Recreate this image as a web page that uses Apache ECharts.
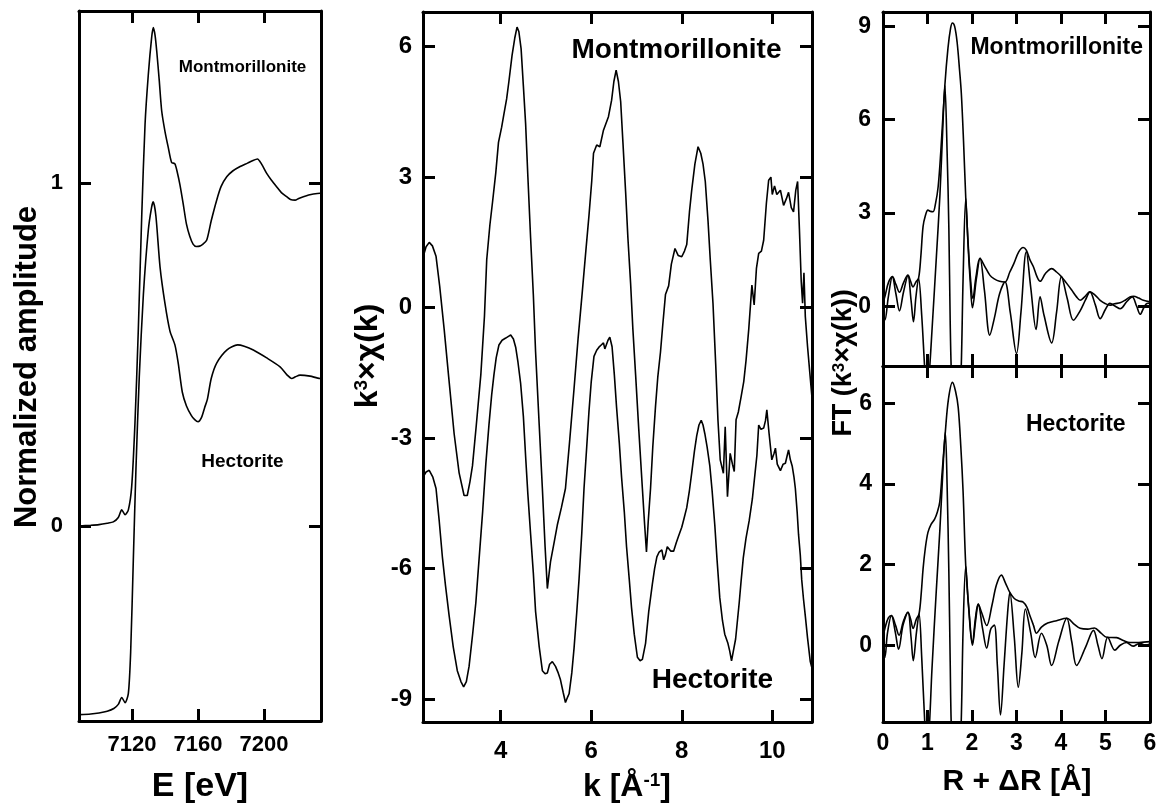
<!DOCTYPE html>
<html><head><meta charset="utf-8">
<script src="https://cdn.jsdelivr.net/npm/echarts@6/dist/echarts.min.js"></script>
<style>html,body{margin:0;padding:0;background:#fff}#c{width:1161px;height:809px}</style>
</head><body><div id="c"></div>
<script>
// ---------- DATA ----------
// Panel 1: XANES (E [eV], normalized amplitude)
const xanesMont = [[7088,0],[7095,0.002],[7100,0.004],[7105,0.008],[7108.7,0.012],[7111.7,0.025],[7113.8,0.047],[7115.8,0.033],[7117.8,0.047],[7119.8,0.114],[7121.8,0.30],[7123.8,0.568],[7125.9,0.904],[7127.9,1.17],[7129.9,1.317],[7131.9,1.424],[7132.9,1.453],[7134,1.43],[7135,1.384],[7136.5,1.30],[7138,1.21],[7140,1.15],[7142,1.103],[7144,1.06],[7146,1.056],[7147.5,1.03],[7149,0.996],[7151,0.94],[7153,0.88],[7155,0.845],[7157,0.822],[7159,0.815],[7161,0.816],[7163,0.822],[7165.3,0.834],[7168,0.89],[7171.3,0.95],[7174,0.99],[7177.4,1.018],[7181,1.035],[7185.5,1.048],[7190,1.058],[7193,1.065],[7196,1.07],[7198.5,1.055],[7201.6,1.028],[7204.5,1.008],[7207.6,0.989],[7210.5,0.972],[7213.7,0.96],[7216,0.952],[7218.8,0.95],[7221,0.955],[7223.8,0.96],[7227,0.965],[7229.9,0.968],[7233.9,0.97],[7235,0.97]];
const xanesHect = [[7088,-0.55],[7095,-0.548],[7100,-0.545],[7105,-0.54],[7109,-0.532],[7111.7,-0.52],[7113.8,-0.50],[7115.8,-0.515],[7117.8,-0.488],[7119.2,-0.367],[7120.8,-0.10],[7122.4,0.167],[7124.4,0.434],[7126.9,0.675],[7129.9,0.863],[7131.9,0.93],[7132.9,0.945],[7134.5,0.903],[7137,0.755],[7140,0.648],[7143,0.568],[7146,0.528],[7148,0.475],[7150.5,0.39],[7153,0.35],[7156,0.322],[7158,0.31],[7160,0.304],[7162,0.315],[7164,0.345],[7165.7,0.37],[7168,0.43],[7171.3,0.475],[7177.4,0.513],[7184,0.528],[7188,0.524],[7193.5,0.513],[7201.6,0.49],[7209.7,0.464],[7214,0.44],[7216.8,0.43],[7219,0.435],[7221.8,0.44],[7227.9,0.437],[7233.9,0.43],[7235,0.43]];

// Panel 2: EXAFS k^3 chi(k)
const exafsMont = [[2.28,1.15],[2.35,1.40],[2.42,1.50],[2.49,1.42],[2.57,1.18],[2.65,0.5],[2.75,-0.5],[2.85,-1.6],[2.97,-2.9],[3.08,-3.8],[3.19,-4.32],[3.26,-4.32],[3.32,-4.0],[3.375,-3.64],[3.46,-2.7],[3.56,-1.54],[3.64,-0.2],[3.69,1.1],[3.76,1.9],[3.82,2.44],[3.89,3.1],[3.95,3.8],[4.02,4.15],[4.07,4.45],[4.13,4.8],[4.18,5.2],[4.25,5.8],[4.31,6.2],[4.36,6.45],[4.40,6.35],[4.45,5.95],[4.5,5.1],[4.55,4.22],[4.6,3.0],[4.66,1.6],[4.72,0.3],[4.77,-1.02],[4.85,-2.7],[4.92,-4.16],[4.98,-5.5],[5.03,-6.46],[5.07,-6.1],[5.10,-5.84],[5.18,-5.4],[5.25,-5.0],[5.34,-4.6],[5.43,-4.16],[5.52,-3.1],[5.62,-1.86],[5.71,-0.7],[5.80,0.34],[5.88,1.3],[5.95,2.12],[6.01,2.9],[6.05,3.55],[6.12,3.74],[6.19,3.70],[6.27,4.08],[6.38,4.39],[6.45,4.77],[6.5,5.2],[6.55,5.46],[6.6,5.2],[6.65,4.74],[6.7,3.8],[6.76,2.65],[6.81,1.6],[6.87,0.55],[6.92,-0.5],[6.98,-1.54],[7.05,-2.8],[7.13,-4.16],[7.18,-5.0],[7.22,-5.62],[7.26,-4.9],[7.31,-4.16],[7.36,-3.2],[7.42,-2.27],[7.47,-1.6],[7.53,-1.02],[7.58,-0.4],[7.64,0.3],[7.71,0.5],[7.77,1.0],[7.85,1.36],[7.92,1.2],[8.0,1.17],[8.06,1.3],[8.11,1.45],[8.17,2.2],[8.22,2.7],[8.29,3.3],[8.36,3.70],[8.42,3.55],[8.47,3.3],[8.52,2.9],[8.58,2.0],[8.63,1.1],[8.69,0.1],[8.75,-1.3],[8.80,-2.59],[8.85,-3.5],[8.92,-3.81],[8.96,-2.74],[9.01,-4.35],[9.07,-3.35],[9.12,-3.6],[9.16,-3.77],[9.2,-2.58],[9.25,-2.4],[9.31,-2.06],[9.37,-1.7],[9.42,-1.22],[9.48,-0.5],[9.55,0.52],[9.6,0.06],[9.65,0.9],[9.70,1.25],[9.76,1.3],[9.81,1.55],[9.87,2.4],[9.92,2.93],[9.97,3.0],[10.0,2.6],[10.05,2.8],[10.1,2.6],[10.18,2.7],[10.25,2.35],[10.31,2.5],[10.36,2.65],[10.42,2.3],[10.47,2.2],[10.52,2.7],[10.56,2.9],[10.6,1.8],[10.64,0.6],[10.67,0.1],[10.7,0.8],[10.73,-0.2],[10.78,-0.9],[10.83,-1.5],[10.88,-2.1]];
const exafsHect = [[2.28,-3.9],[2.35,-3.78],[2.42,-3.74],[2.5,-3.9],[2.57,-4.16],[2.64,-4.9],[2.71,-5.73],[2.78,-6.4],[2.86,-7.09],[2.95,-7.8],[3.04,-8.35],[3.12,-8.6],[3.18,-8.72],[3.24,-8.6],[3.30,-8.25],[3.38,-7.5],[3.45,-6.78],[3.52,-5.8],[3.60,-4.69],[3.67,-3.6],[3.74,-2.69],[3.80,-2.0],[3.85,-1.54],[3.9,-1.15],[3.96,-0.86],[4.03,-0.75],[4.11,-0.70],[4.17,-0.66],[4.22,-0.63],[4.28,-0.72],[4.33,-0.91],[4.38,-1.25],[4.44,-1.75],[4.5,-2.5],[4.55,-3.43],[4.6,-4.3],[4.66,-5.21],[4.72,-6.1],[4.77,-6.99],[4.85,-7.8],[4.92,-8.35],[4.98,-8.42],[5.03,-8.40],[5.08,-8.2],[5.14,-8.14],[5.21,-8.25],[5.27,-8.4],[5.32,-8.56],[5.38,-8.85],[5.43,-9.08],[5.48,-8.95],[5.51,-8.88],[5.57,-8.4],[5.62,-7.83],[5.68,-7.0],[5.73,-6.25],[5.79,-5.2],[5.84,-4.16],[5.9,-3.2],[5.95,-2.38],[6.0,-1.7],[6.06,-1.12],[6.12,-0.98],[6.17,-0.91],[6.22,-0.86],[6.27,-0.81],[6.3,-0.95],[6.32,-0.91],[6.37,-0.75],[6.41,-0.68],[6.46,-0.9],[6.51,-1.54],[6.56,-2.3],[6.62,-3.11],[6.67,-3.9],[6.73,-4.69],[6.78,-5.5],[6.84,-6.25],[6.89,-6.9],[6.95,-7.51],[7.02,-8.04],[7.08,-8.12],[7.13,-8.09],[7.2,-7.72],[7.27,-6.99],[7.35,-6.36],[7.4,-6.0],[7.45,-5.73],[7.5,-5.62],[7.56,-5.57],[7.6,-5.8],[7.64,-5.68],[7.68,-5.5],[7.72,-5.55],[7.76,-5.6],[7.82,-5.6],[7.88,-5.4],[7.93,-5.25],[8.0,-5.05],[8.05,-4.85],[8.11,-4.6],[8.17,-4.2],[8.22,-3.8],[8.28,-3.3],[8.33,-2.95],[8.38,-2.7],[8.43,-2.59],[8.47,-2.7],[8.51,-2.90],[8.56,-3.2],[8.62,-3.64],[8.67,-4.2],[8.73,-5.0],[8.78,-5.8],[8.84,-6.67],[8.9,-7.2],[8.95,-7.51],[9.02,-7.72],[9.06,-7.9],[9.1,-8.12],[9.14,-7.9],[9.19,-7.62],[9.23,-7.2],[9.27,-6.78],[9.31,-6.3],[9.36,-5.75],[9.42,-5.3],[9.49,-4.9],[9.56,-4.4],[9.62,-3.8],[9.66,-3.4],[9.70,-2.7],[9.75,-2.8],[9.81,-2.77],[9.85,-2.6],[9.88,-2.35],[9.93,-2.9],[9.99,-3.5],[10.04,-3.35],[10.07,-3.23],[10.11,-3.6],[10.18,-3.75],[10.24,-3.6],[10.29,-3.58],[10.33,-3.4],[10.36,-3.27],[10.4,-3.5],[10.44,-3.64],[10.48,-3.9],[10.51,-4.16],[10.55,-4.7],[10.58,-5.21],[10.62,-5.7],[10.65,-6.25],[10.69,-6.7],[10.73,-7.09],[10.78,-7.6],[10.84,-8.14],[10.88,-8.3]];

// Panel 3: Fourier transforms (R + dR [A], FT)
const ftMontMag = [[0,0.1],[0.05,0.35],[0.12,0.75],[0.21,0.95],[0.29,0.7],[0.37,0.45],[0.46,0.75],[0.56,1.0],[0.62,0.8],[0.675,0.62],[0.74,0.78],[0.8,0.9],[0.85,1.6],[0.9,2.56],[0.95,2.9],[1.01,3.09],[1.07,3.05],[1.125,3.04],[1.18,3.3],[1.24,3.85],[1.3,5.0],[1.39,7.1],[1.46,8.3],[1.52,8.95],[1.56,9.11],[1.61,9.0],[1.665,8.5],[1.72,7.6],[1.76,6.85],[1.81,5.3],[1.86,3.47],[1.91,2.1],[1.96,1.0],[2.02,0.25],[2.09,0.95],[2.18,1.54],[2.28,1.3],[2.4,1.0],[2.5,0.88],[2.62,0.8],[2.74,0.78],[2.85,1.1],[2.94,1.37],[3.05,1.75],[3.15,1.89],[3.22,1.8],[3.3,1.5],[3.38,1.27],[3.46,0.95],[3.53,0.8],[3.65,1.05],[3.79,1.21],[3.9,1.1],[4.01,0.95],[4.12,0.75],[4.24,0.52],[4.35,0.3],[4.43,0.19],[4.53,0.3],[4.65,0.46],[4.77,0.35],[4.88,0.19],[5.0,0.08],[5.1,0.03],[5.2,0.08],[5.33,0.11],[5.45,0.2],[5.55,0.3],[5.63,0.32],[5.75,0.26],[5.85,0.19],[6.0,0.14]];
const ftMontIm = [[0,-0.35],[0.04,-0.45],[0.12,0.3],[0.21,0.95],[0.29,0.4],[0.37,-0.15],[0.46,0.45],[0.56,0.98],[0.63,0.2],[0.685,-0.5],[0.74,0.3],[0.8,0.9],[0.87,-0.3],[0.94,-2.06],[0.99,-3.0],[1.045,-2.06],[1.1,-0.8],[1.2,1.6],[1.28,3.6],[1.34,5.6],[1.39,7.1],[1.44,5.0],[1.48,2.5],[1.51,-0.5],[1.535,-2.1],[1.645,-6],[1.755,-2.1],[1.8,0.9],[1.86,3.47],[1.91,2.0],[1.96,0.8],[2.01,-0.05],[2.1,0.9],[2.18,1.54],[2.28,0.5],[2.4,-0.93],[2.5,-0.4],[2.62,0.4],[2.74,0.78],[2.86,-0.2],[3.0,-1.52],[3.1,-0.2],[3.22,1.75],[3.32,0.6],[3.44,-0.75],[3.53,0.3],[3.62,-0.3],[3.79,-1.18],[3.9,-0.2],[4.01,0.95],[4.14,0.25],[4.28,-0.45],[4.43,-0.15],[4.55,0.2],[4.65,0.46],[4.77,0.05],[4.88,-0.4],[5.0,-0.1],[5.1,0.09],[5.22,0.0],[5.33,-0.08],[5.48,0.15],[5.6,0.3],[5.7,0.0],[5.78,-0.26],[5.86,-0.05],[5.93,0.09],[6.0,0.1]];
const ftHectMag = [[0,0.2],[0.05,0.45],[0.12,0.68],[0.19,0.74],[0.28,0.5],[0.36,0.25],[0.46,0.6],[0.56,0.82],[0.62,0.65],[0.675,0.42],[0.75,0.65],[0.81,0.78],[0.86,1.3],[0.9,1.89],[0.95,2.4],[1.01,2.8],[1.08,3.0],[1.16,3.13],[1.22,3.3],[1.275,3.55],[1.33,4.3],[1.4,5.28],[1.47,6.1],[1.56,6.52],[1.63,6.3],[1.69,5.9],[1.75,4.9],[1.8,3.8],[1.86,1.96],[1.93,0.9],[2.01,0.05],[2.08,0.7],[2.14,1.02],[2.22,0.8],[2.33,0.49],[2.45,1.0],[2.55,1.5],[2.66,1.74],[2.75,1.55],[2.85,1.31],[2.95,1.16],[3.05,1.1],[3.15,1.07],[3.23,0.95],[3.3,0.74],[3.38,0.5],[3.45,0.3],[3.56,0.45],[3.7,0.55],[3.9,0.61],[4.13,0.67],[4.3,0.52],[4.43,0.42],[4.6,0.4],[4.75,0.43],[4.9,0.3],[5.03,0.2],[5.25,0.19],[5.4,0.12],[5.55,0.07],[5.75,0.07],[6.0,0.09]];
const ftHectIm = [[0,-0.15],[0.04,-0.3],[0.1,0.3],[0.19,0.74],[0.28,0.3],[0.35,-0.1],[0.45,0.5],[0.56,0.82],[0.63,0.2],[0.68,-0.38],[0.75,0.3],[0.81,0.78],[0.87,-0.3],[0.94,-1.95],[0.99,-2.8],[1.045,-1.95],[1.1,-0.6],[1.2,1.4],[1.28,2.9],[1.34,4.2],[1.4,5.28],[1.44,4.0],[1.48,1.8],[1.51,-0.4],[1.535,-2.0],[1.645,-5],[1.755,-2.0],[1.8,0.4],[1.86,1.96],[1.92,1.0],[2.01,0.0],[2.08,0.6],[2.14,1.02],[2.24,0.4],[2.33,-0.07],[2.42,0.4],[2.5,0.5],[2.57,-0.5],[2.64,-1.73],[2.72,-0.5],[2.8,0.8],[2.85,1.31],[2.95,0.2],[3.04,-1.04],[3.12,-0.2],[3.2,0.9],[3.32,0.3],[3.42,-0.3],[3.56,0.3],[3.68,0.0],[3.79,-0.5],[3.95,0.1],[4.13,0.67],[4.24,0.1],[4.35,-0.5],[4.55,-0.05],[4.73,0.37],[4.83,0.0],[4.92,-0.33],[5.05,0.2],[5.21,-0.12],[5.33,0.0],[5.47,0.07],[5.62,-0.02],[5.77,0.05],[5.9,0.0],[6.0,0.03]];

// Tick values
const ticksE = [7120, 7160, 7200];
const ticksXanesY = [0, 1];
const ticksK = [4, 6, 8, 10];
const ticksExafsY = [-9, -6, -3, 0, 3, 6];
const ticksR = [0, 1, 2, 3, 4, 5, 6];
const ticksFtTopY = [0, 3, 6, 9];
const ticksFtBotY = [0, 2, 4, 6];

// ---------- CHART ----------
const FF = "'Liberation Sans', Arial, Helvetica, sans-serif";
const BLACK = '#000';

function axis(gridIndex, min, max, position, ticks, labelCfg) {
  return {
    type: 'value', gridIndex, min, max, position,
    axisLine: { show: true, onZero: false, lineStyle: { color: BLACK, width: 3 } },
    axisTick: { show: true, inside: true, length: 12, customValues: ticks, lineStyle: { color: BLACK, width: 3 } },
    axisLabel: labelCfg ? Object.assign({ show: true, customValues: ticks, color: BLACK, fontFamily: FF, fontWeight: 'bold',
      formatter: v => String(v) }, labelCfg) : { show: false },
    splitLine: { show: false },
    axisPointer: { show: false }
  };
}

const xAxis = [
  axis(0, 7087.9, 7234.5, 'bottom', ticksE, { fontSize: 22, margin: 13 }),
  axis(0, 7087.9, 7234.5, 'top', ticksE, null),
  axis(1, 2.282, 10.878, 'bottom', ticksK, { fontSize: 24, margin: 17 }),
  axis(1, 2.282, 10.878, 'top', ticksK, null),
  axis(2, 0, 6, 'bottom', ticksR, null),
  axis(2, 0, 6, 'top', ticksR, null),
  axis(3, 0, 6, 'bottom', ticksR, { fontSize: 23, margin: 10 }),
  axis(3, 0, 6, 'top', ticksR, null)
];
const yAxis = [
  axis(0, -0.5685, 1.5015, 'left', ticksXanesY, { fontSize: 22, margin: 16 }),
  axis(0, -0.5685, 1.5015, 'right', ticksXanesY, null),
  axis(1, -9.529, 6.798, 'left', ticksExafsY, { fontSize: 24, margin: 11 }),
  axis(1, -9.529, 6.798, 'right', ticksExafsY, null),
  axis(2, -1.924, 9.464, 'left', ticksFtTopY, { fontSize: 23, margin: 12 }),
  axis(2, -1.924, 9.464, 'right', ticksFtTopY, null),
  axis(3, -1.902, 6.925, 'left', ticksFtBotY, { fontSize: 23, margin: 11 }),
  axis(3, -1.902, 6.925, 'right', ticksFtBotY, null)
];

function line(data, xi, yi, smooth) {
  return {
    type: 'line', data, xAxisIndex: xi, yAxisIndex: yi,
    showSymbol: false, symbol: 'none', smooth: smooth, clip: true,
    lineStyle: { color: BLACK, width: 1.6 }, silent: true
  };
}

function txt(x, y, text, size, rot, rich) {
  const st = { text, fill: BLACK, fontFamily: FF, fontWeight: 'bold', fontSize: size,
    align: 'center', verticalAlign: 'middle', textAlign: 'center', textVerticalAlign: 'middle' };
  if (rich) st.rich = rich;
  return { type: 'text', x, y, rotation: rot || 0, silent: true, style: st };
}
const R90 = Math.PI / 2;
const supRich = (big, small) => ({
  b: { fontSize: big, fontWeight: 'bold', fontFamily: FF, fill: BLACK },
  s: { fontSize: small, fontWeight: 'bold', fontFamily: FF, fill: BLACK, verticalAlign: 'top' }
});

const option = {
  animation: false,
  backgroundColor: '#fff',
  grid: [
    { left: 79, top: 11, width: 242, height: 710 },
    { left: 423, top: 12, width: 389, height: 710 },
    { left: 883, top: 12, width: 267, height: 354 },
    { left: 883, top: 366, width: 267, height: 356 }
  ],
  xAxis, yAxis,
  series: [
    line(xanesMont, 0, 0, 0.25),
    line(xanesHect, 0, 0, 0.25),
    line(exafsMont, 2, 2, false),
    line(exafsHect, 2, 2, false),
    line(ftMontMag, 4, 4, 0.35),
    line(ftMontIm, 4, 4, 0.35),
    line(ftHectMag, 6, 6, 0.35),
    line(ftHectIm, 6, 6, 0.35)
  ],
  graphic: [
    txt(27.5, 367, 'Normalized amplitude', 31, R90),
    txt(368, 356, '{b|k}{s|3}{b|×χ(k)}', 32, R90, supRich(32, 19)),
    txt(844, 363, '{b|FT (k}{s|3}{b|×χ(k))}', 27, R90, supRich(27, 17)),
    txt(200, 787, 'E [eV]', 34),
    txt(627, 787, '{b|k [Å}{s|-1}{b|]}', 32, 0, supRich(32, 19)),
    txt(1017, 782, 'R + ΔR [Å]', 30),
    txt(242.5, 67, 'Montmorillonite', 17),
    txt(242.5, 462, 'Hectorite', 19),
    txt(676.5, 50, 'Montmorillonite', 28),
    txt(712.5, 680, 'Hectorite', 28),
    txt(1056.7, 47.5, 'Montmorillonite', 23),
    txt(1075.8, 424.5, 'Hectorite', 23)
  ]
};

const chart = echarts.init(document.getElementById('c'), null, { renderer: 'canvas', width: 1161, height: 809 });
chart.setOption(option);
</script>
</body></html>
